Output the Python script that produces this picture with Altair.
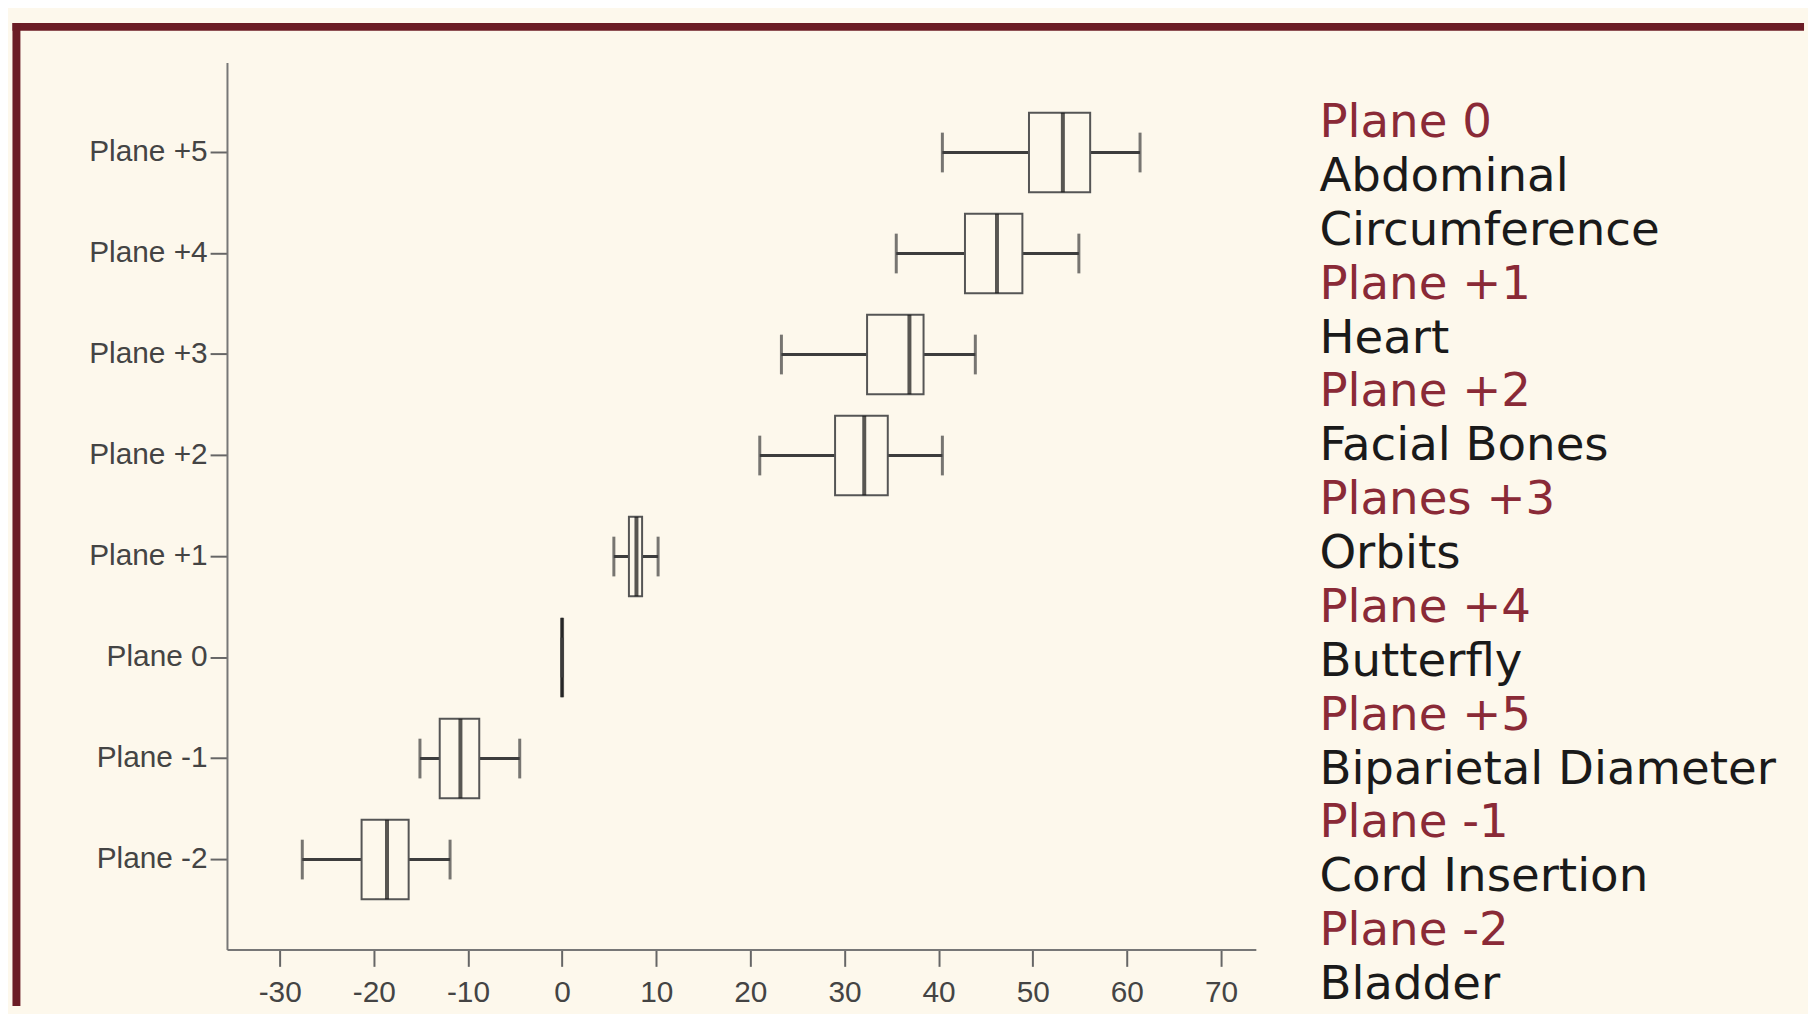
import altair as alt
import pandas as pd

# ---- data ----
planes = ["Plane +5", "Plane +4", "Plane +3", "Plane +2", "Plane +1", "Plane  0", "Plane -1", "Plane -2"]
whisker_low = [40.4, 35.5, 23.3, 21.0, 5.5, 0.0, -15.1, -27.6]
q1 = [49.6, 42.8, 32.4, 29.0, 7.1, 0.0, -13.0, -21.3]
median = [53.2, 46.2, 36.9, 32.1, 7.9, 0.0, -10.8, -18.6]
q3 = [56.1, 48.9, 38.4, 34.6, 8.5, 0.0, -8.8, -16.3]
whisker_high = [61.4, 54.9, 43.9, 40.4, 10.2, 0.0, -4.5, -11.9]

x_ticks = [-30, -20, -10, 0, 10, 20, 30, 40, 50, 60, 70]

legend_lines = ["Plane 0", "Abdominal", "Circumference", "Plane +1", "Heart",
                "Plane +2", "Facial Bones", "Planes +3", "Orbits", "Plane +4",
                "Butterfly", "Plane +5", "Biparietal Diameter", "Plane -1",
                "Cord Insertion", "Plane -2", "Bladder"]
legend_kind = ["plane", "structure", "structure", "plane", "structure",
               "plane", "structure", "plane", "structure", "plane",
               "structure", "plane", "structure", "plane",
               "structure", "plane", "structure"]

BG = "#FDF8EC"
FRAME = "#6B1C25"
RED = "#8A2A37"

df = pd.DataFrame({"plane": planes, "lo": whisker_low, "q1": q1,
                   "med": median, "q3": q3, "hi": whisker_high})
leg = pd.DataFrame({"idx": list(range(len(legend_lines))),
                    "text": legend_lines, "kind": legend_kind})
one = pd.DataFrame({"a": [0]})

W, H = 1036, 893

xscale = alt.Scale(domain=[-35.6, 73.7], nice=False, zero=False)
yenc = alt.Y("plane:N", sort=planes,
             scale=alt.Scale(paddingInner=0, paddingOuter=0.39),
             axis=alt.Axis(title=None, labelFont="Liberation Sans", labelFontSize=30,
                           labelColor="#444", tickSize=17, labelPadding=3,
                           tickColor="#666", tickWidth=2, domainColor="#777",
                           domainWidth=2, grid=False))

xaxis = alt.Axis(title=None, values=x_ticks, labelExpr="'' + datum.value",
                 labelFont="Liberation Sans",
                 labelFontSize=30, labelColor="#444", tickSize=17, labelPadding=11,
                 tickColor="#666", tickWidth=2, domainColor="#777", domainWidth=2,
                 grid=False)

base = alt.Chart(df)

whisk = base.mark_rule(color="#3d3d3d", strokeWidth=3).encode(
    x=alt.X("lo:Q", scale=xscale, axis=xaxis), x2="hi:Q", y=yenc)

box = base.mark_bar(size=80, fill=BG, stroke="#555", strokeWidth=2).encode(
    x=alt.X("q1:Q", scale=xscale), x2="q3:Q", y=yenc)

med = base.mark_tick(size=80, thickness=4, color="#111").encode(
    x=alt.X("med:Q", scale=xscale), y=yenc)

cap_lo = base.mark_tick(size=40, thickness=3, color="#3d3d3d").encode(
    x=alt.X("lo:Q", scale=xscale), y=yenc)
cap_hi = base.mark_tick(size=40, thickness=3, color="#3d3d3d").encode(
    x=alt.X("hi:Q", scale=xscale), y=yenc)

frame_top = alt.Chart(one).mark_rule(color=FRAME, strokeWidth=8).encode(
    x=alt.value(-216), x2=alt.value(1588), y=alt.value(-36))
frame_left = alt.Chart(one).mark_rule(color=FRAME, strokeWidth=8).encode(
    x=alt.value(-212), y=alt.value(-40), y2=alt.value(950))

texts = alt.Chart(leg).mark_text(align="left", baseline="alphabetic",
                                 font="DejaVu Sans", fontSize=47).encode(
    x=alt.value(1100),
    y=alt.Y("idx:Q", scale=alt.Scale(domain=[0, 16], range=[75, 943]), axis=None),
    text="text:N",
    color=alt.Color("kind:N", scale=alt.Scale(domain=["plane", "structure"],
                                              range=[RED, "#1A1A1A"]), legend=None),
)

main = alt.layer(whisk, box, med, cap_lo, cap_hi)

chart = alt.layer(main, texts, frame_top, frame_left).resolve_scale(
    y="independent"
).properties(
    width=W, height=H,
    padding={"left": 0.5, "top": 7.5, "right": 0, "bottom": 0},
    background=BG,
).configure_view(stroke=None)

chart.save("out.html", embed_options={"renderer": "svg", "actions": False})
